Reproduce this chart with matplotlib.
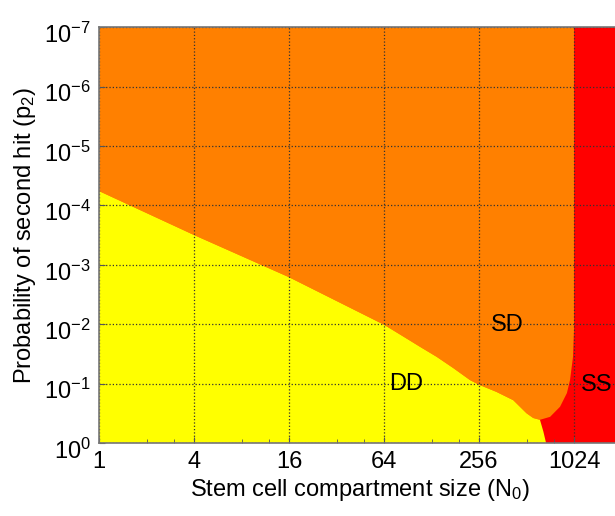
# Phase diagram: DD / SD / SS regions on log axes

import numpy as np
import matplotlib
matplotlib.use('Agg')
import matplotlib.pyplot as plt
import matplotlib.transforms as mtrans
from matplotlib.ticker import LogLocator, FixedLocator, FuncFormatter, NullFormatter

plt.rcParams['font.family'] = ['Liberation Sans', 'DejaVu Sans']
plt.rcParams['mathtext.default'] = 'regular'

# boundary DD | SD  (N0, p2)
dd_sd_n = [1, 4, 16, 64, 85, 108, 138, 176, 224, 256, 330, 422, 512, 565, 623]
dd_sd_p = [10**-4.24, 10**-3.50, 10**-2.79, 10**-1.99, 10**-1.79, 10**-1.62,
           10**-1.45, 10**-1.26, 10**-1.06, 10**-0.98, 10**-0.86, 10**-0.72, 10**-0.50,
           10**-0.42, 10**-0.39]

# boundary DD | SS
dd_ss_n = [623, 655, 681]
dd_ss_p = [10**-0.39, 10**-0.19, 1.0]

# boundary SD | SS
sd_ss_n = [623, 722, 835, 923, 966, 1009, 1024, 1024]
sd_ss_p = [10**-0.39, 10**-0.44, 10**-0.61, 10**-0.84, 10**-1.06, 10**-1.45, 10**-1.90, 1e-7]

n_min, n_max = 1, 2048
p_top, p_bottom = 1e-7, 1.0

x_ticks = [1, 4, 16, 64, 256, 1024]
y_ticks = [1e-7, 1e-6, 1e-5, 1e-4, 1e-3, 1e-2, 1e-1, 1e0]

region_labels = ['DD', 'SD', 'SS']
label_n = [89, 385, 1430]
label_p = [10**-0.99, 10**-1.99, 10**-0.98]

c_yellow = '#ffff00'
c_orange = '#ff8000'
c_red = '#ff0000'

fig = plt.figure(figsize=(6.15, 5.16), dpi=100)
ax = fig.add_axes([0.161, 0.1415, 0.8496, 0.806])
ax.set_xscale('log', base=2)
ax.set_yscale('log')

# red background (SS)
ax.fill([n_min, n_max, n_max, n_min], [p_top, p_top, p_bottom, p_bottom],
        color=c_red, lw=0, zorder=0)
# SD region
ox = [n_min] + sd_ss_n[::-1] + dd_sd_n[::-1]
oy = [p_top] + sd_ss_p[::-1] + dd_sd_p[::-1]
ax.fill(ox, oy, color=c_orange, lw=0, zorder=1)
# DD region
yx = [n_min] + dd_sd_n + dd_ss_n[1:]
yy = [p_bottom] + dd_sd_p + dd_ss_p[1:]
ax.fill(yx, yy, color=c_yellow, lw=0, zorder=2)

for lab, n, p in zip(region_labels, label_n, label_p):
    ax.text(n, p, lab, fontsize=17, ha='center', va='center', zorder=5)

ax.set_xlim(n_min, n_max)
ax.set_ylim(p_bottom, p_top)

ax.xaxis.set_major_locator(FixedLocator(x_ticks))
ax.xaxis.set_major_formatter(FuncFormatter(lambda v, pos: '%d' % v))
ax.xaxis.set_minor_locator(LogLocator(base=4, subs=(2, 3)))
ax.xaxis.set_minor_formatter(NullFormatter())
ax.yaxis.set_major_locator(FixedLocator(y_ticks))
ax.yaxis.set_major_formatter(FuncFormatter(
    lambda v, pos: r'$10^{%d}$' % int(round(np.log10(v)))))
ax.yaxis.set_minor_locator(FixedLocator([]))

ax.tick_params(axis='both', which='both', direction='in', labelsize=17,
               top=False, right=False, color='#555555')
ax.tick_params(axis='both', which='major', length=4, pad=6)
ax.tick_params(axis='both', which='minor', length=3)

# keep the "10" centred on the tick, exponent sticking out above
shift = mtrans.ScaledTranslation(0, -4 / 72, fig.dpi_scale_trans)
for lbl in ax.get_yticklabels():
    lbl.set_transform(lbl.get_transform() + shift)

ax.set_axisbelow(False)
ax.grid(True, which='major', linestyle=':', color='#333333', linewidth=0.9, zorder=3)

for s in ax.spines.values():
    s.set_color('#777777')
    s.set_linewidth(1.2)
    s.set_zorder(4)

ax.set_xlabel('Stem cell compartment size (N$_0$)', fontsize=17, labelpad=3)
ax.set_ylabel('Probability of second hit (p$_2$)', fontsize=17, labelpad=4)

plt.savefig('out.png', dpi=100)
